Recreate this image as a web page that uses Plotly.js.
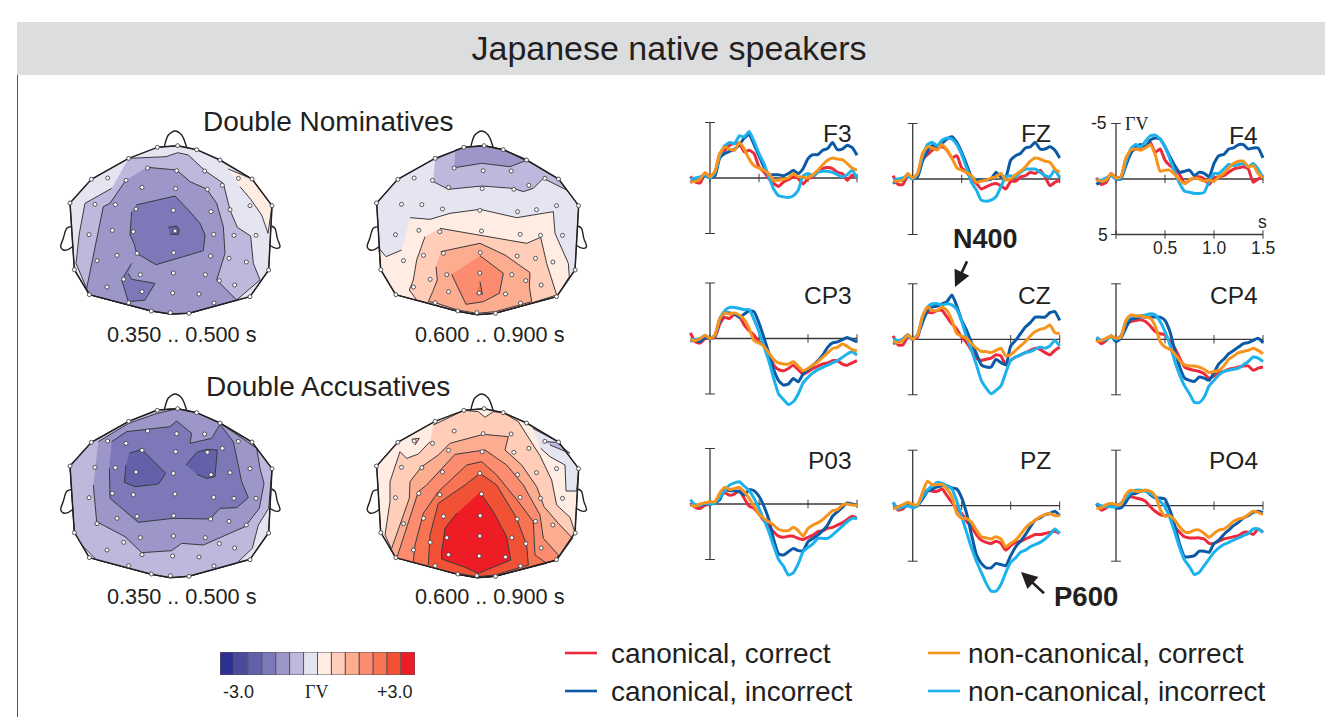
<!DOCTYPE html>
<html><head><meta charset="utf-8">
<script src="https://cdn.plot.ly/plotly-3.0.1.min.js"></script>
<style>html,body{margin:0;padding:0;background:#fff}</style></head>
<body><div id="chart" style="width:1325px;height:717px"></div>
<script>
// ---------- ERP data (uV, negative up), one value per time sample ----------
const timeS=[-.2,-.15,-.1,-.05,0,.05,.1,.15,.2,.25,.3,.35,.4,.45,.5,.55,.6,.65,.7,.75,.8,.85,.9,.95,1,1.05,1.1,1.15,1.2,1.25,1.3,1.35,1.4,1.45,1.5];
const seriesNames=['canonical, correct','canonical, incorrect','non-canonical, incorrect','non-canonical, correct'];
const seriesColors=['#ed2a3b','#0c5aa6','#1cb2ec','#f7941e'];
const F3_cc=[-.15,.35,.45,-.4,-.1,-.4,-2.2,-2.5,-2.95,-3.1,-3.1,-2.35,-2.5,-2.2,-1,-.55,.05,.5,.75,.35,.15,-.1,.05,.55,.05,-.1,-.55,-.85,-.95,-.85,-.5,-.4,.2,-.25,-.1];
const F3_ci=[.4,.1,.1,-.2,0,-.2,-1.8,-2.2,-2.4,-2.6,-3,-3.6,-3.9,-3,-2,-1,-.3,-.3,-.3,-.2,-.4,-.7,-.4,-.85,-1.75,-2.1,-2.1,-2.5,-2.65,-3.2,-2.55,-2.6,-2.95,-2.75,-2.05];
const F3_nc=[.35,.3,.1,-.5,-.1,-.6,-2.2,-2.8,-2.6,-2.5,-3.2,-2.6,-1.7,-1.1,-.9,-.7,-.4,.2,.2,.1,0,-.4,-.1,-.1,0,-.3,-.7,-1.2,-1.6,-1.8,-1.7,-1.65,-1.3,-.9,-.7];
const F3_ni=[.1,0,-.1,-.3,0,-.5,-2,-2.9,-3.2,-3.1,-3.8,-3.7,-4.2,-3.3,-2.2,-1.3,-.1,1,1.6,1.7,1.75,1.6,1.1,-.2,-.4,-.2,-.5,-.6,-.6,-.5,-.3,-.1,-.3,-.7,0];
const FZ_cc=[-.3,.5,.5,-.3,-.1,-.3,-1.8,-2.2,-2.6,-2.8,-2.9,-2.6,-1.9,-2.1,-1,-.6,0,.4,.9,.7,.5,.4,.6,.9,.2,.2,-.2,-.3,-.6,-.5,-.8,-.2,.6,.3,.1];
const FZ_ci=[.4,.1,.1,-.3,0,-.2,-1.6,-2.5,-3,-3,-3.2,-3.6,-3.8,-3.3,-2.4,-1.3,-.2,.1,.1,.1,0,-.6,-.2,-.2,-1.7,-2.1,-2.3,-2.8,-2.9,-3.3,-2.7,-2.7,-2.9,-2.6,-1.9];
const FZ_nc=[.2,.2,.1,-.5,-.1,-.5,-2.3,-2.9,-2.8,-2.6,-3.1,-2.6,-1.9,-1,-.8,-.6,-.3,.3,.2,.1,-.1,-.2,-.5,.1,0,-.4,-.7,-1.1,-1.6,-1.9,-1.8,-1.6,-1.5,-.9,-.6];
const FZ_ni=[.1,0,-.1,-.3,0,-.5,-2,-3.1,-3.3,-3,-3.5,-3.7,-3.6,-3.1,-2.2,-1,.3,1,1.9,2,1.9,1.6,.7,-.2,-.3,-.2,-.6,-.9,-.9,-.9,-.6,-.3,-.2,-.8,-.1];
const F4_cc=[-.1,.5,.3,-.5,-.1,-.2,-1.6,-2.4,-2.7,-2.7,-2.9,-3.3,-2.4,-2.7,-1.7,-1.2,-.9,-.4,.4,.1,-.1,-.2,0,.5,-.1,-.2,-.3,-.6,-.9,-1,-1.1,-.9,.3,0,-.3];
const F4_ci=[.5,.2,.1,-.4,0,0,-1.2,-2.3,-2.9,-3.1,-2.9,-3.5,-3.7,-3.6,-2.9,-2,-1.2,-.6,-.7,-.8,-.3,-.6,-.5,-.2,-1.4,-2.1,-2.2,-2.7,-2.8,-3.1,-3.1,-2.7,-2.8,-2.8,-1.9];
const F4_nc=[.1,.2,.1,-.5,-.1,-.2,-1.9,-2.6,-2.7,-2.6,-2.8,-3.1,-2.2,-.7,-.8,-.8,-.4,.1,.4,.1,-.1,0,.2,.1,.2,-.2,-.5,-1,-1.4,-1.6,-1.6,-1.1,-1.2,-.5,-.1];
const F4_ni=[.1,.1,-.1,-.3,0,-.1,-1.5,-2.7,-3.1,-2.9,-3.4,-3.9,-3.95,-3.6,-2.9,-1.8,-.6,.4,1.1,1.2,1.3,1.3,1.2,.2,-.5,-.5,-.9,-1.3,-1.2,-1.3,-1.4,-1.1,-1.4,-.9,-.1];
const CP3_cc=[-.5,.3,.4,0,0,-.1,-1.3,-1.9,-1.8,-2.2,-2,-1.2,-.7,-.3,.3,.6,1.3,2.4,2.8,2.9,2.7,2.4,2.8,3.2,3,2.7,2.5,2.3,2.2,2,2,2.3,2.4,2.2,2];
const CP3_ci=[.2,.2,.3,-.1,0,-.2,-1.6,-2.3,-2.3,-2.2,-1.9,-2.2,-2.5,-2.4,-1.4,-.1,1.3,2.8,3.8,4.2,4.1,3.6,3.9,3.2,2.8,2.4,2,1.5,.8,.4,.3,.1,-.1,.1,.3];
const CP3_nc=[.1,.2,0,-.3,0,-.3,-1.8,-2.3,-2.2,-2.3,-2.1,-1.7,-.9,.2,.4,.7,1.3,1.9,2.2,2.3,2.3,2.1,2.5,2.9,2.7,2.4,2.1,1.7,1.3,.9,.8,.5,.7,1,1.1];
const CP3_ni=[.1,.1,0,-.3,0,-.3,-1.8,-2.5,-2.8,-2.8,-2.7,-2.6,-2.6,-1.7,-.6,.7,2,3.6,5,5.5,5.95,5.7,5,4,3.5,3.1,2.8,2.6,2.4,2.2,2,1.7,1.4,1.2,1.5];
const CZ_cc=[-.3,.5,.5,-.2,0,-.2,-1.9,-2.4,-2.4,-2.6,-2.6,-2,-1.4,-.9,-.2,.3,1,1.7,1.9,1.8,1.7,1.4,1.5,2.3,1.9,1.6,1.4,1.2,1,.8,.9,1.2,1.4,1,.7];
const CZ_ci=[.4,.2,0,-.4,0,-.4,-1.5,-2.6,-2.9,-3,-3.2,-3.4,-4,-3,-1.7,-.8,.3,1.3,2.3,2.5,2.5,1.8,2.1,2.3,.6,.1,-.5,-1.1,-1.5,-2,-2,-2,-2.4,-2.5,-1.7];
const CZ_nc=[.2,.3,.1,-.4,0,-.4,-2.1,-2.9,-2.6,-2.6,-2.9,-2.6,-1.7,-.5,-.3,-.1,.4,.8,1.1,1.1,1.2,1,.8,1.5,1.4,1,.6,.2,-.3,-.7,-.9,-1,-1.3,-.6,-.5];
const CZ_ni=[0,.1,0,-.3,0,-.4,-2,-2.9,-3.2,-3.2,-3.1,-3.2,-3.1,-2.7,-1.6,-.2,1,2.3,3.7,4.4,4.9,4.6,4.2,3,1.9,1.6,1.4,1.2,1.1,.9,.7,.8,.6,.1,.6];
const CP4_cc=[0,.4,.1,-.3,0,-.3,-1.3,-1.6,-1.7,-1.75,-1.6,-1.2,-.7,-.5,-.4,.2,.8,1.7,2.5,2.7,2.8,2.9,3.1,3.5,3.3,3,2.9,2.7,2.6,2.5,2.4,2.4,2.8,2.6,2.5];
const CP4_ci=[0,.1,0,-.3,.2,-.1,-1,-1.8,-1.9,-2,-2,-2,-2,-2,-1.7,-.7,1,2.5,3.5,3.7,3.8,3.4,3.5,3.7,3,2.2,1.8,1.3,1,.7,.4,.3,.1,-.1,.3];
const CP4_nc=[.2,.1,-.1,-.3,-.1,-.2,-1.7,-2.2,-2.1,-2.1,-2,-1.9,-1.2,.2,.7,.9,1.3,1.9,2.3,2.4,2.4,2.5,2.7,3,2.9,2.8,2.4,1.8,1.5,1.2,1.1,1,.8,1,1.3];
const CP4_ni=[-.2,.1,0,-.2,0,-.2,-1.6,-2.1,-2.1,-2.1,-2.2,-2.3,-2.2,-1.6,-.7,.5,2,3.2,4.2,4.9,5.7,5.7,5.2,4.2,3.7,3.2,2.9,2.8,2.7,2.6,2.3,2,1.6,1.7,2];
const P03_cc=[-.1,.3,.4,.1,0,-.1,-.7,-1,-.8,-.9,-1.2,-.5,.2,.4,.9,1.5,2,2.5,2.9,3,2.9,2.9,3.1,3.2,3,2.8,2.5,2.4,2.2,2.1,1.9,1.7,1.4,1.1,1.3];
const P03_ci=[.1,.1,.1,0,0,-.1,-.4,-1.3,-1.2,-1.2,-1.1,-.8,-1.3,-1.2,-.7,.2,1.4,3.2,4.5,4.6,4.3,4,4.2,4.2,3.4,3.1,2.8,2.4,1.9,1.1,.7,.3,-.1,0,.1];
const P03_nc=[.1,.2,0,-.1,-.2,-.2,-1,-1.5,-1.3,-1.4,-1.5,-1.1,-.5,.2,.9,1.3,1.6,1.9,2.3,2.4,2.4,2.1,2.4,2.9,2.2,1.9,1.7,1.4,1,.6,.5,.1,0,.1,.1];
const P03_ni=[-.4,.1,.1,-.1,0,-.1,-.6,-1.2,-1.7,-1.9,-2,-1.6,-1.2,-.5,.4,1.4,2.5,3.8,5,5.6,6.4,6.2,5.4,4.3,3.9,3.6,3.1,3.1,3.1,2.8,2.4,2,1.6,1.3,1.3];
const PZ_cc=[-.3,.4,.3,-.2,0,0,-.9,-1.4,-1.3,-1.3,-1.5,-.9,-.3,.3,.7,1.4,1.9,2.6,3.1,3.3,3.4,3.2,3.4,4,3.6,3.3,3.2,3,2.8,2.6,2.6,2.5,2.4,2.3,2.5];
const PZ_ci=[0,.1,.1,0,0,0,-.6,-1.3,-1.5,-1.7,-1.8,-1.8,-1.6,-1.5,-.7,.7,2.6,4.4,5.2,5.6,5.6,5.2,5.3,5.4,4.5,3.7,3.2,2.6,1.9,1.3,1.1,.8,.7,.5,.9];
const PZ_nc=[.3,.1,-.1,-.3,-.1,-.1,-1.2,-2.2,-1.9,-1.9,-1.9,-1.5,-.8,.7,1.15,1.15,1.5,2.2,2.8,2.9,3,2.8,3,3.7,3.4,3.1,2.6,2,1.6,1.3,1,.8,.7,.9,.9];
const PZ_ni=[-.3,.3,.1,0,.2,0,-.8,-1.4,-1.8,-2.1,-2,-1.8,-1.5,-.4,1,2.4,3.8,5,6,7,7.7,7.7,7.1,6,5.1,4.7,4.2,4,3.7,3.5,3.3,3,2.6,2.1,2.5];
const PO4_cc=[-.2,.4,.2,-.2,0,-.2,-.6,-.8,-.7,-.6,-.4,.1,.5,.8,.9,.9,1.9,2.4,2.8,2.9,2.9,2.9,3,3.4,3.4,3.2,3,2.9,2.8,2.7,2.4,2.4,2.6,2.1,2.4];
const PO4_ci=[-.1,.1,0,-.1,.2,.2,-.3,-1,-1.1,-1.3,-1.4,-1,-.7,-.7,-.6,.4,1.8,3.5,4.6,4.6,4.5,4.1,4.1,4.2,3.4,3.1,2.6,2.2,1.8,1.5,1.1,.9,.6,.5,.6];
const PO4_nc=[.2,.2,-.1,-.2,-.1,-.1,-1,-1.4,-1.3,-1.3,-1.4,-1.3,-.9,.3,.95,.9,1.3,1.9,2.35,2.4,2.2,2.2,2.5,2.85,2.5,2.2,2.1,1.8,1.4,1.2,1.1,.8,.5,.6,.8];
const PO4_ni=[-.2,0,.1,.1,.1,-.2,-.7,-1.2,-1.4,-1.4,-1.3,-1.1,-.8,-.4,.1,1.1,2.4,3.8,4.9,5.5,6.2,6,5.4,4.8,4.2,3.8,3.5,3.3,3.1,2.9,2.7,2.5,2.1,2.1,2.4];
const channels=['F3','FZ','F4','CP3','CZ','CP4','P03','PZ','PO4'];
const channelValues=[[F3_cc,F3_ci,F3_ni,F3_nc],[FZ_cc,FZ_ci,FZ_ni,FZ_nc],[F4_cc,F4_ci,F4_ni,F4_nc],[CP3_cc,CP3_ci,CP3_ni,CP3_nc],[CZ_cc,CZ_ci,CZ_ni,CZ_nc],[CP4_cc,CP4_ci,CP4_ni,CP4_nc],[P03_cc,P03_ci,P03_ni,P03_nc],[PZ_cc,PZ_ci,PZ_ni,PZ_nc],[PO4_cc,PO4_ci,PO4_ni,PO4_nc]];
const xTickSeconds=[0,.5,1,1.5];
const voltLimits=[-5,5];

// ---------- Topography: colour levels, electrodes, iso-band outlines ----------
const levelColors=['#2e3192','#4b4a9d','#6261a9','#7d78b8','#9c96c9','#bdb9dc','#e5e5f1','#ffece2','#ffcdb8','#fcad90','#fb8c70','#f77352','#f15236','#ee1c25'];
const elecX=[352,413,470,540,266,636,154,90,696,103,686,148,630,334,391,447,203,323,410,494,595,258,306,407,502,547,165,226,288,400,513,570,630,147,217,280,405,521,582,648,171,231,291,401,512,567,619,251,301,400,496,538,584,201,306,398,477,522,266];
const elecY=[82,77,89,120,115,177,178,249,257,449,450,524,530,573,578,580,174,144,152,153,175,181,202,206,208,196,253,254,267,271,275,269,257,344,331,335,333,343,346,346,422,406,400,398,408,415,426,478,464,459,464,482,495,501,515,519,522,549,548];
const noseX=[373,385,405,425,440], noseY=[80,45,33,45,82];
const earLX=[93,80,70,62,70,85,100], earLY=[320,325,355,380,390,388,378];
const earRX=[695,705,712,720,712,700,688], earRY=[318,325,355,380,385,382,375];
const outlineA=[[352,82],[413,77],[470,89],[540,120],[636,177],[696,257],[686,450],[630,530],[447,580],[391,582],[334,573],[148,524],[103,449],[90,249],[154,178],[266,115]];
const outlineB=[[342,82],[403,77],[460,89],[530,120],[626,177],[686,257],[675,450],[620,530],[435,580],[381,584],[323,574],[137,524],[92,449],[80,249],[143,178],[255,115]];
const outlineC=[[352,75],[413,71],[470,83],[540,114],[636,171],[696,251],[686,443],[630,523],[447,574],[391,578],[334,568],[148,518],[103,442],[90,243],[154,172],[266,109]];
const outlineD=[[342,76],[403,71],[460,83],[530,114],[626,171],[686,251],[675,443],[620,525],[435,574],[381,578],[323,568],[137,518],[92,442],[80,243],[143,172],[255,109]];
const bandsA=[
 [6,outlineA],
 [7,[[565,147],[636,177],[696,257],[684,340],[665,285],[632,238],[600,200]]],
 [5,[[266,115],[378,110],[413,98],[445,105],[495,152],[550,190],[570,270],[592,322],[632,348],[640,430],[660,480],[590,540],[447,580],[391,582],[334,573],[148,524],[108,430],[118,340],[135,250],[215,205]]],
 [4,[[322,142],[410,150],[450,185],[500,207],[530,250],[550,320],[555,400],[530,480],[590,540],[447,580],[391,582],[334,573],[148,524],[140,505],[190,260],[210,250],[258,180]]],
 [3,[[288,255],[405,228],[445,270],[480,310],[495,345],[490,392],[430,410],[348,434],[290,400],[282,370],[270,345],[275,275]]],
 [3,[[275,430],[245,480],[265,545],[315,540],[345,490],[275,478],[265,460]]],
 [2,[[385,322],[410,318],[418,330],[415,343],[390,343]]]
];
const bandsB=[
 [6,outlineB],
 [5,[[255,118],[342,82],[403,77],[460,89],[530,120],[626,177],[650,210],[580,175],[550,205],[520,215],[490,205],[395,198],[295,208],[250,185]]],
 [4,[[316,90],[342,82],[403,77],[460,89],[527,122],[480,140],[395,130],[313,143]]],
 [7,[[180,293],[240,298],[300,280],[390,268],[500,293],[610,275],[615,340],[655,430],[658,470],[620,530],[435,580],[381,584],[323,574],[137,524],[92,449],[87,385],[108,410],[155,390]]],
 [8,[[270,325],[390,345],[530,370],[572,352],[590,430],[620,525],[510,560],[435,580],[381,584],[323,574],[200,540],[178,510],[190,480],[200,420],[225,350]]],
 [9,[[272,395],[390,370],[465,405],[540,458],[538,500],[545,545],[510,555],[435,575],[381,580],[323,570],[255,548],[235,545],[248,515],[262,480],[258,440]]],
 [10,[[390,407],[460,460],[448,520],[400,545],[348,553],[325,505],[305,463]]],
 [11,[[390,485],[397,522],[380,522]]]
];
const bandsC=[
 [6,outlineC],
 [5,[[103,442],[90,243],[154,172],[266,109],[352,75],[413,71],[470,83],[540,114],[636,171],[696,251],[686,370],[655,420],[637,490],[590,535],[447,574],[391,578],[334,568],[170,525],[125,480]]],
 [4,[[175,170],[266,115],[352,85],[413,71],[470,83],[540,114],[650,190],[660,250],[672,295],[658,370],[615,425],[560,450],[490,480],[425,475],[395,497],[305,503],[255,455],[170,410],[160,300]]],
 [3,[[215,170],[260,140],[390,125],[410,108],[455,145],[450,175],[515,160],[540,118],[580,170],[605,290],[625,338],[590,368],[540,370],[510,402],[400,400],[295,412],[210,340],[208,250]]],
 [2,[[268,205],[305,193],[377,265],[355,297],[285,305],[253,292],[258,240]]],
 [2,[[438,240],[470,202],[500,193],[532,195],[525,275],[500,280],[470,268]]]
];
const bandsD=[
 [7,outlineD],
 [6,[[548,130],[626,171],[686,251],[680,318],[648,318],[645,240],[600,215],[572,190]]],
 [5,[[585,170],[620,172],[660,205],[600,180]]],
 [8,[[250,120],[342,76],[385,80],[405,97],[430,80],[460,83],[505,110],[545,175],[570,212],[605,285],[620,360],[660,397],[675,443],[620,525],[435,574],[381,578],[323,568],[137,518],[105,450],[120,350],[120,290],[150,200],[170,220],[205,207],[240,170]]],
 [8,[[185,163],[208,160],[195,180]]],
 [9,[[125,490],[178,340],[180,290],[215,245],[265,210],[300,175],[400,148],[475,155],[465,195],[515,240],[560,305],[582,365],[625,415],[668,460],[620,525],[435,574],[381,578],[323,568],[137,518]]],
 [10,[[140,520],[205,320],[230,300],[315,208],[405,195],[470,240],[520,300],[570,390],[580,460],[625,510],[620,525],[435,574],[381,578],[323,568]]],
 [11,[[190,530],[195,480],[220,385],[265,320],[350,240],[395,230],[440,270],[505,350],[550,410],[555,510],[590,535],[435,574],[381,578],[323,568]]],
 [12,[[235,540],[240,450],[265,355],[345,300],[390,265],[440,300],[500,400],[530,480],[535,540],[435,570],[381,575],[323,565]]],
 [13,[[390,322],[430,380],[470,455],[482,525],[385,565],[345,547],[275,522],[275,500],[285,430],[320,385]]]
];
const legendLevels=[1,2,3,4,5,6,7,8,9,10,11,12,13,14];
const legendHeights=legendLevels.map(()=>1);

// ---------- Layout helpers ----------
const W=1325,H=717,INK='#231f20',FONT='"Liberation Sans",Arial,sans-serif';
const px=v=>v/W, py=v=>1-v/H;
const traces=[],annotations=[],layout={
  width:W,height:H,margin:{l:0,r:0,t:0,b:0},autosize:false,paper_bgcolor:'#fff',plot_bgcolor:'rgba(0,0,0,0)',
  showlegend:false,hovermode:false,bargap:0,font:{family:FONT,color:INK},
  title:{text:'Japanese native speakers',x:669/W,xanchor:'center',y:py(48.5),yanchor:'middle',font:{family:FONT,size:34,color:INK}},
  shapes:[
    {type:'rect',xref:'paper',yref:'paper',x0:px(17),x1:1,y0:py(75),y1:py(22),fillcolor:'#dcddde',line:{width:0},layer:'below'},
    {type:'line',xref:'paper',yref:'paper',x0:px(17.5),x1:px(17.5),y0:py(75),y1:0,line:{color:'#55565a',width:1},layer:'below'}
  ]};
let axisNo=0;
function addAxes(left,right,top,bottom,xr,yr){
  axisNo++;const s=axisNo===1?'':axisNo;
  const base={visible:false,fixedrange:true,showgrid:false,zeroline:false};
  layout['xaxis'+s]={...base,domain:[px(left),px(right)],range:xr,anchor:'y'+s};
  layout['yaxis'+s]={...base,domain:[py(bottom),py(top)],range:yr,anchor:'x'+s};
  return {x:'x'+s,y:'y'+s};
}
function label(text,x,y,size,anchor,bold,family){
  annotations.push({xref:'paper',yref:'paper',x:px(x),y:py(y),text:bold?'<b>'+text+'</b>':text,showarrow:false,xanchor:anchor||'center',yanchor:'middle',font:{family:family||FONT,size,color:INK},borderpad:0,borderwidth:0});
}
// ---------- Topographic maps ----------
function drawMap(bands,outline,ox,oy,dx,dy,caption,capX,capY){
  const ax=addAxes(ox,ox+270,oy,oy+200,[0,810],[600,0]);
  bands.forEach(([lvl,pts])=>traces.push({type:'scatter',mode:'lines',xaxis:ax.x,yaxis:ax.y,x:pts.map(p=>p[0]),y:pts.map(p=>p[1]),fill:'toself',fillcolor:levelColors[lvl],line:{color:'#3a3a40',width:1},hoverinfo:'skip'}));
  const line=(x,y,w)=>traces.push({type:'scatter',mode:'lines',xaxis:ax.x,yaxis:ax.y,x,y,line:{color:INK,width:w,shape:'spline',smoothing:.8},hoverinfo:'skip'});
  line(noseX.map(v=>v+dx),noseY.map(v=>v+dy),1.4);
  line(earLX.map(v=>v+dx),earLY.map(v=>v+dy),1.4);
  line(earRX.map(v=>v+dx),earRY.map(v=>v+dy),1.4);
  const cl=outline.concat([outline[0]]);
  traces.push({type:'scatter',mode:'lines',xaxis:ax.x,yaxis:ax.y,x:cl.map(p=>p[0]),y:cl.map(p=>p[1]),line:{color:INK,width:1.5},hoverinfo:'skip'});
  traces.push({type:'scatter',mode:'markers',xaxis:ax.x,yaxis:ax.y,x:elecX.map(v=>v+dx),y:elecY.map(v=>v+dy),marker:{size:4,color:'#fff',line:{color:'#444448',width:.9}},hoverinfo:'skip'});
  label(caption,capX,capY,21.7);
}
drawMap(bandsA,outlineA,40,120,0,0,'0.350 .. 0.500 s',181.5,334);
drawMap(bandsB,outlineB,350,120,-10.5,0,'0.600 .. 0.900 s',490,334);
drawMap(bandsC,outlineC,40,385,0,-6,'0.350 .. 0.500 s',181.5,596);
drawMap(bandsD,outlineD,350,385,-10.5,-6,'0.600 .. 0.900 s',490,596);
label('Double Nominatives',328,121,28);
label('Double Accusatives',328,386,28);

// ---------- ERP panels ----------
const colX0=[710,912.7,1116], rowZero=[[178,179,179],[338.5,339.3,339.3],[504,505.7,505.7]];
const labelRight=[852,1051,1258], labelY=[134,295,460];
const PXS=98,PXV=11.1,XMIN=-.225,XMAX=1.52,VMIN=-5.6,VMAX=8.4;
channels.forEach((name,i)=>{
  const c=i%3,r=Math.floor(i/3),x0=colX0[c],y0=rowZero[r][c];
  const ax=addAxes(x0+XMIN*PXS,x0+XMAX*PXS,y0+VMIN*PXV,y0+VMAX*PXV,[XMIN,XMAX],[VMAX,VMIN]);
  const common={type:'scatter',xaxis:ax.x,yaxis:ax.y,hoverinfo:'skip'};
  const axisStyle={color:'#3a3a3c',width:1.3};
  traces.push({...common,mode:'lines+markers',x:xTickSeconds,y:xTickSeconds.map(()=>0),line:axisStyle,marker:{symbol:'line-ns',size:6,line:{color:'#3a3a3c',width:1}}});
  traces.push({...common,mode:'lines+markers',x:voltLimits.map(()=>0),y:voltLimits,line:axisStyle,marker:{symbol:'line-ew',size:7,line:{color:'#3a3a3c',width:1}}});
  if(name==='F4') traces.push({...common,mode:'lines+markers',x:xTickSeconds,y:xTickSeconds.map(()=>5),line:axisStyle,marker:{symbol:'line-ns',size:6,line:{color:'#3a3a3c',width:1}}});
  channelValues[i].forEach((vals,k)=>traces.push({...common,name:seriesNames[k],mode:'lines',x:timeS,y:vals,line:{color:seriesColors[k],width:3,shape:'spline',smoothing:.5}}));
  label(name,labelRight[c],labelY[r]+(name==='F4'?1:0),24.5,'right');
});
// F4 axis labels
const SERIF='"Liberation Serif",serif';
label('-5',1099,123,17.5);label('5',1103,235,17.5);label('\u0393V',1136,124,18,'center',false,SERIF);label('s',1262,222,17.5);
label('0.5',1165,248,17.5);label('1.0',1214,248,17.5);label('1.5',1263,248,17.5);
// Component callouts
label('N400',985.5,239,27,'center',true);
label('P600',1086,596,27.5,'center',true);
function arrow(tipX,tipY,tailX,tailY){
  annotations.push({xref:'paper',yref:'paper',x:px(tipX),y:py(tipY),ax:tailX-tipX,ay:tailY-tipY,text:' ',showarrow:true,arrowhead:2,arrowsize:1.25,arrowwidth:2.6,arrowcolor:INK,standoff:0});
}
arrow(955,287,970,255);
arrow(1021,572,1047,596);

// ---------- Colour scale ----------
const cb=addAxes(220,415,652,675,[.5,14.5],[0,1]);
traces.push({type:'bar',xaxis:cb.x,yaxis:cb.y,x:legendLevels,y:legendHeights,width:1,marker:{color:levelColors,line:{color:'#55555a',width:1}},hoverinfo:'skip'});
label('-3.0',238.5,692,18);label('\u0393V',316,692,18,'center',false,SERIF);label('+3.0',395,692,18);

// ---------- Condition key ----------
const keyItems=[[seriesNames[0],seriesColors[0],565,611,653],[seriesNames[1],seriesColors[1],565,611,691],[seriesNames[3],seriesColors[3],928,968,653],[seriesNames[2],seriesColors[2],928,968,691]];
keyItems.forEach(([t,col,lx,tx,y])=>{
  layout.shapes.push({type:'line',xref:'paper',yref:'paper',x0:px(lx),x1:px(lx+32),y0:py(y),y1:py(y),line:{color:col,width:2.6}});
  label(t,tx,y,28,'left');
});
layout.annotations=annotations;
Plotly.newPlot('chart',traces,layout,{staticPlot:true,displayModeBar:false});
</script></body></html>
